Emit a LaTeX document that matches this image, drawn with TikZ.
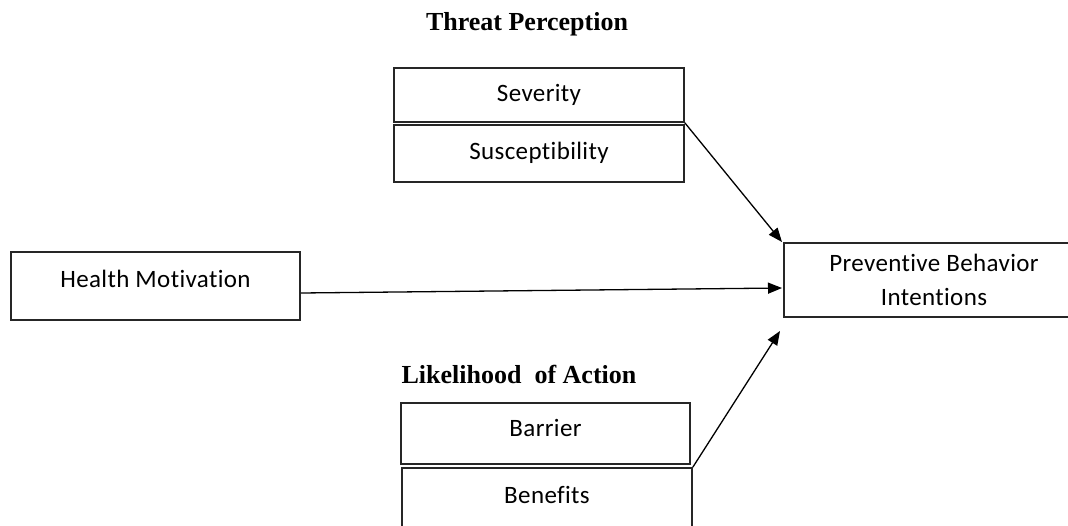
\documentclass[tikz,border=0pt]{standalone}
\usepackage{fontspec}
\setmainfont{Carlito}[Ligatures=NoCommon,LetterSpace=1.5]
\newfontfamily\titlefont{Liberation Serif}
\usetikzlibrary{arrows.meta}
\begin{document}
\begin{tikzpicture}[x=1pt,y=-1pt,
  box/.style={draw=black!85,line width=1.6pt,inner sep=0pt,font=\fontsize{25}{34}\selectfont},
  title/.style={font=\titlefont\bfseries\fontsize{26}{30}\selectfont,inner sep=0pt},
  arr/.style={line width=1.3pt,-{Triangle[length=14pt,width=11pt]}}]
\useasboundingbox (0,0) rectangle (1068,525);
\node[title] (tp) at (527,24) {Threat Perception};
\node[title] (la) at (519,374) {Likelihood\ \ of Action};
\node[box,minimum width=290pt,minimum height=54pt] (sev) at (539,95) {\raisebox{1pt}{Severity}};
\node[box,minimum width=290pt,minimum height=57pt] (sus) at (539,153.5) {\raisebox{5pt}{Susceptibility}};
\node[box,minimum width=289pt,minimum height=68pt] (hm) at (155.5,286) {\raisebox{15pt}{Health Motivation}};
\node[box,minimum width=300pt,minimum height=74pt,align=center] (pbi) at (934,280) {\raisebox{-3pt}{Preventive Behavior}\\\raisebox{-3pt}{Intentions}};
\node[box,minimum width=289pt,minimum height=61pt] (bar) at (545.5,433.5) {\raisebox{11pt}{Barrier}};
\node[box,minimum width=290pt,minimum height=80pt] (ben) at (547,508) {\raisebox{26pt}{Benefits}};
\coordinate (pt1) at (782,242);
\coordinate (pt2) at (782,288);
\coordinate (pt3) at (780,331);
\draw[arr] (sev.south east) -- (pt1);
\draw[arr] (hm.east) ++(0,7) -- (pt2);
\draw[arr] (ben.north east) -- (pt3);
\end{tikzpicture}
\end{document}
